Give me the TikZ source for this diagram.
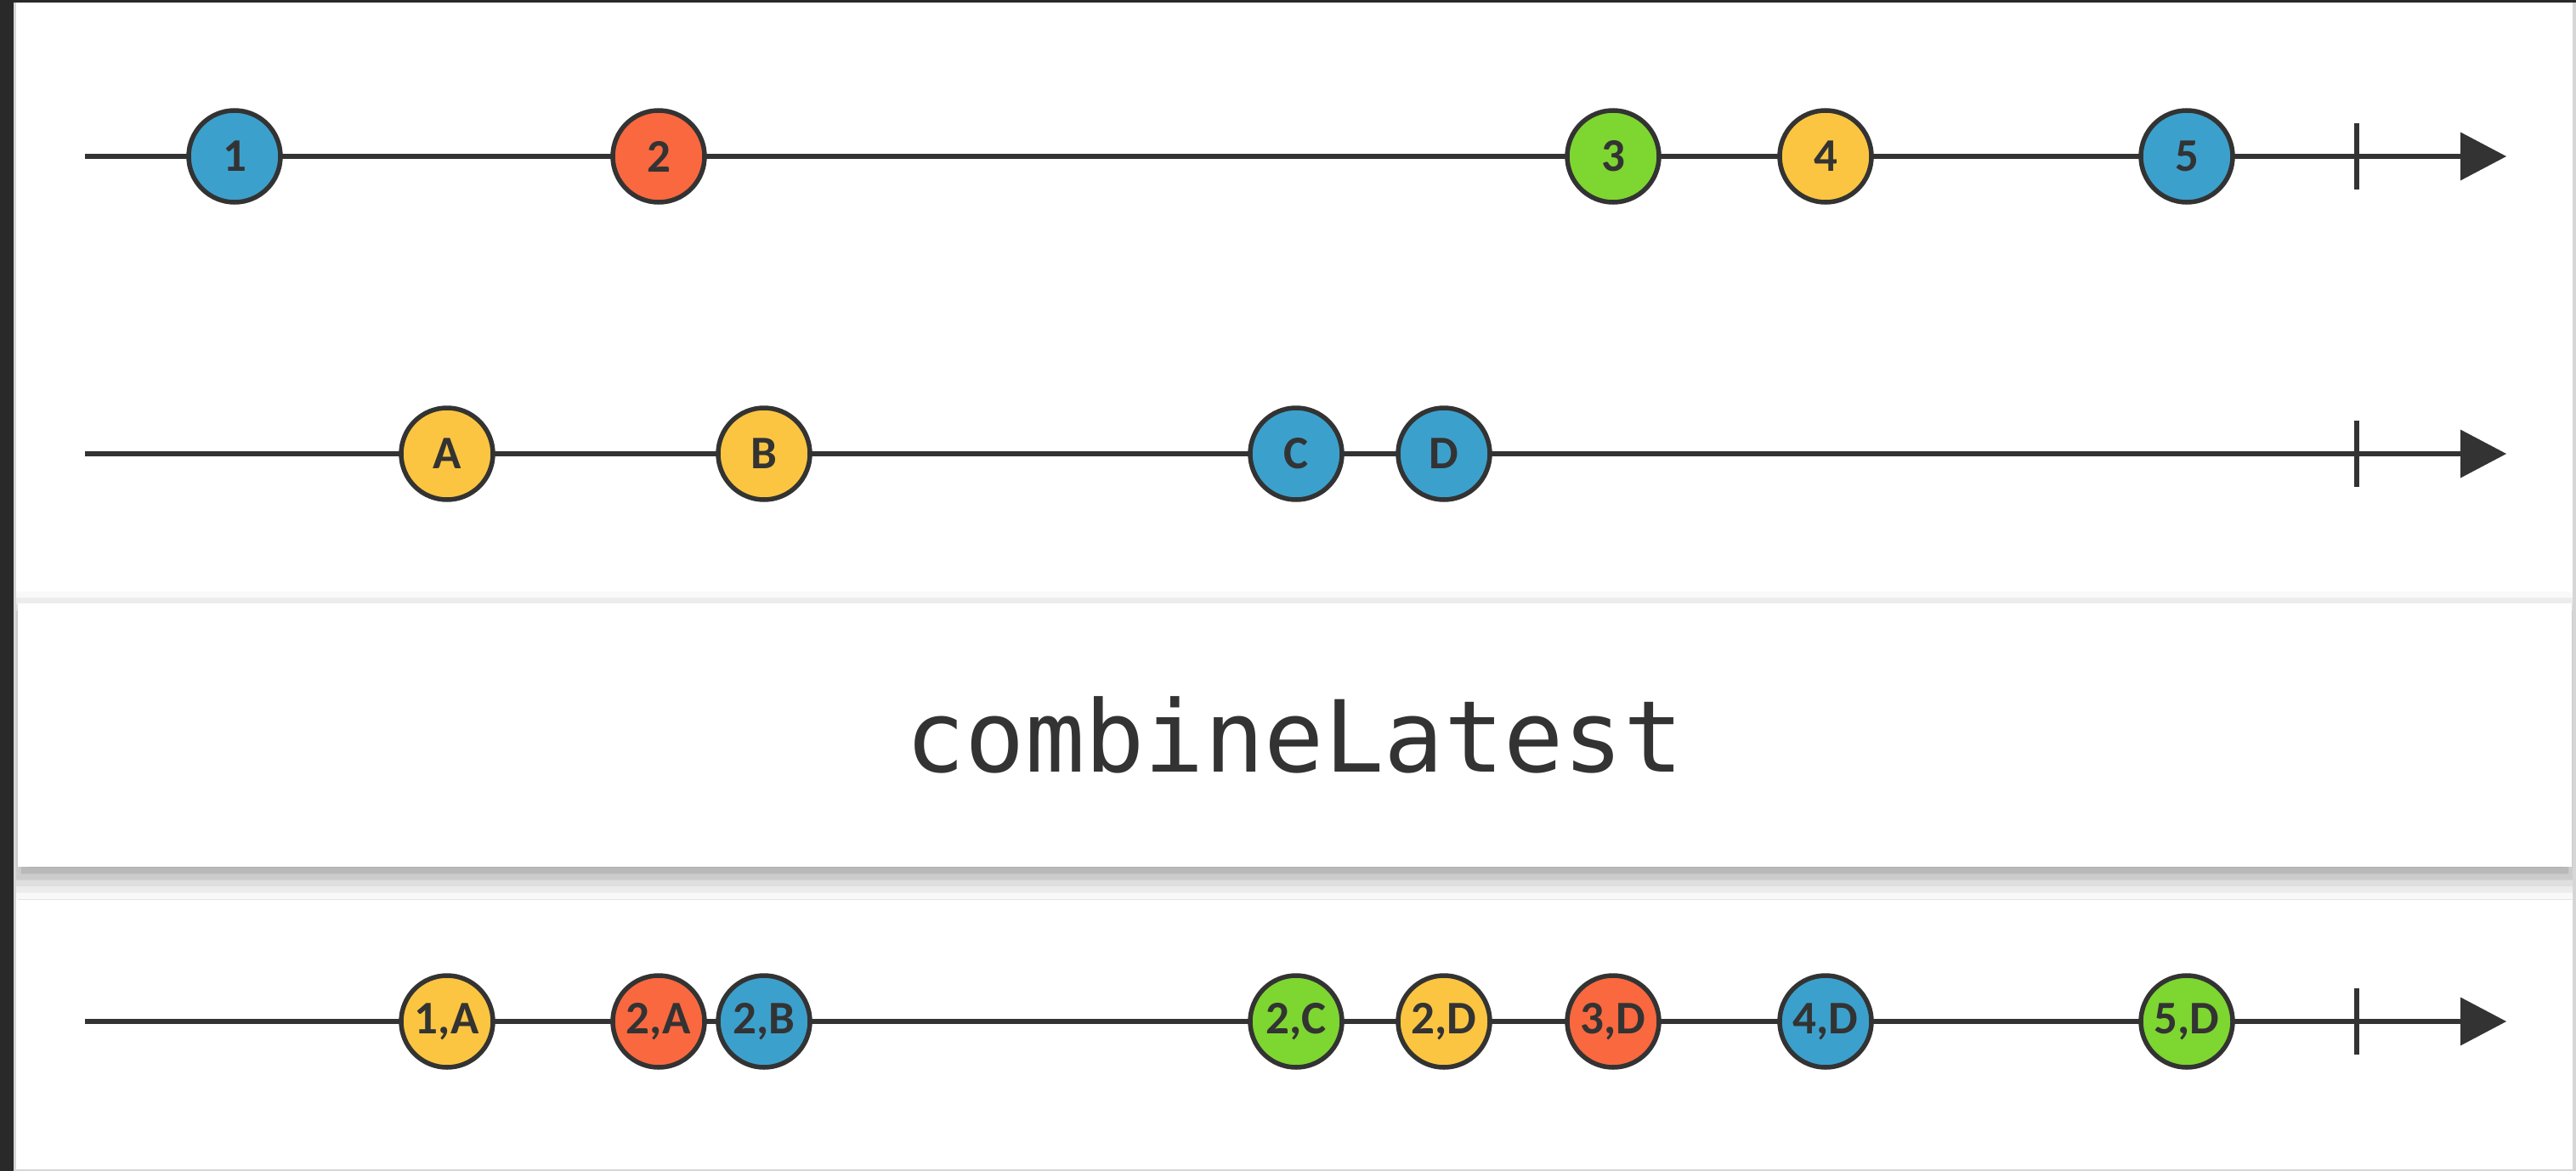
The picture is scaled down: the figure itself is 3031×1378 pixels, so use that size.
\documentclass[tikz,border=0pt]{standalone}
\usepackage{fontspec}
\newfontfamily\marblefont{Carlito}
\newfontfamily\opfont{DejaVu Sans Mono}
\usetikzlibrary{arrows.meta,shadows.blur}

\definecolor{ink}{HTML}{333333}
\definecolor{mblue}{HTML}{3CA0CC}
\definecolor{mred}{HTML}{F9683F}
\definecolor{mgreen}{HTML}{7ED631}
\definecolor{myellow}{HTML}{FBC541}
\definecolor{framedark}{HTML}{292929}
\definecolor{pageedge}{HTML}{D6D6D6}

\begin{document}
\begin{tikzpicture}[x=1pt,y=-1pt,
  timeline/.style={draw=ink,line width=6pt,
    -{Triangle[length=54pt,width=57pt,line width=0pt]}},
  endtick/.style={draw=ink,line width=6pt},
  marble/.style={circle,draw=ink,line width=5.5pt,minimum size=108pt,
    inner sep=0pt,text=ink,font=\marblefont\bfseries\fontsize{55}{55}\selectfont},
  opbox/.style={fill=white,
    blur shadow={shadow xshift=0pt,shadow yshift=-12pt,
      shadow blur radius=26pt,shadow opacity=40}},
  oplabel/.style={text=ink,inner sep=0pt,anchor=base,
    font=\opfont\fontsize{117}{117}\selectfont}
]
\useasboundingbox (0,0) rectangle (3031,1378);
\fill[white] (0,0) rectangle (3031,1378);

% operator box with its soft shadow
\path[opbox] (21,710) rectangle (3026,1020);
\node[oplabel] (op) at (1523,908) {combineLatest};

% window frame
\fill[framedark] (0,0) rectangle (16,1378);
\fill[framedark] (0,0) rectangle (3031,3);
\fill[pageedge] (16,3) rectangle (19,1378);
\fill[pageedge] (3027,3) rectangle (3031,1378);
\fill[pageedge] (16,1376) rectangle (3031,1378);

% timelines
\foreach \r/\y in {a/184,b/534,c/1202}{
  \coordinate (\r start) at (100,\y);
  \coordinate (\r end) at (2949,\y);
  \coordinate (\r tickA) at (2773,\y-39);
  \coordinate (\r tickB) at (2773,\y+39);
  \draw[timeline] (\r start) -- (\r end);
  \draw[endtick] (\r tickA) -- (\r tickB);
}

% first source
\node[marble,fill=mblue]   (a1) at (276,184)  {1};
\node[marble,fill=mred]    (a2) at (775,184)  {2};
\node[marble,fill=mgreen]  (a3) at (1898,184) {3};
\node[marble,fill=myellow] (a4) at (2148,184) {4};
\node[marble,fill=mblue]   (a5) at (2573,184) {5};

% second source
\node[marble,fill=myellow] (bA) at (526,534)  {A};
\node[marble,fill=myellow] (bB) at (899,534)  {B};
\node[marble,fill=mblue]   (bC) at (1525,534) {C};
\node[marble,fill=mblue]   (bD) at (1699,534) {D};

% combined output
\node[marble,fill=myellow] (c1A) at (526,1202)  {1,A};
\node[marble,fill=mred]    (c2A) at (775,1202)  {2,A};
\node[marble,fill=mblue]   (c2B) at (899,1202)  {2,B};
\node[marble,fill=mgreen]  (c2C) at (1525,1202) {2,C};
\node[marble,fill=myellow] (c2D) at (1699,1202) {2,D};
\node[marble,fill=mred]    (c3D) at (1898,1202) {3,D};
\node[marble,fill=mblue]   (c4D) at (2148,1202) {4,D};
\node[marble,fill=mgreen]  (c5D) at (2573,1202) {5,D};
\end{tikzpicture}
\end{document}
